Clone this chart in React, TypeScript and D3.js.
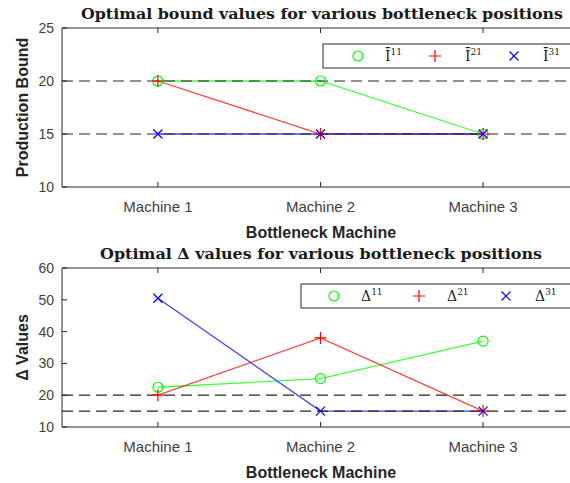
import React, { useEffect, useRef } from 'react';
import * as d3 from 'd3';

// categories and values
const machines = ['Machine 1', 'Machine 2', 'Machine 3'];

const boundSeries = [
  { key: '11', color: '#00ff00', marker: 'circle', values: [20, 20, 15] },
  { key: '21', color: '#ff0000', marker: 'plus', values: [20, 15, 15] },
  { key: '31', color: '#0000ff', marker: 'cross', values: [15, 15, 15] },
];

const deltaSeries = [
  { key: '11', color: '#00ff00', marker: 'circle', values: [22.5, 25.2, 37] },
  { key: '21', color: '#ff0000', marker: 'plus', values: [20, 38, 15] },
  { key: '31', color: '#0000ff', marker: 'cross', values: [50.5, 15, 15] },
];

const boundTicks = [10, 15, 20, 25];
const deltaTicks = [10, 20, 30, 40, 50, 60];
const refLines = [20, 15];

const App = () => {
  const ref = useRef<SVGSVGElement | null>(null);

  useEffect(() => {
    const svg = d3.select(ref.current);
    svg.selectAll('*').remove();

    const x = d3.scaleLinear().domain([0.41, 3.59]).range([62, 579]);
    const axisColor = '#262626';

    const drawMarker = (g: any, kind: string, cx: number, cy: number, color: string) => {
      if (kind === 'circle') {
        g.append('circle').attr('cx', cx).attr('cy', cy).attr('r', 5)
          .attr('fill', 'none').attr('stroke', color).attr('stroke-width', 1.2);
      } else if (kind === 'plus') {
        const s = 6;
        g.append('path').attr('d', `M${cx - s},${cy}H${cx + s}M${cx},${cy - s}V${cy + s}`)
          .attr('stroke', color).attr('stroke-width', 1.2).attr('fill', 'none');
      } else {
        const s = 4.5;
        g.append('path').attr('d', `M${cx - s},${cy - s}L${cx + s},${cy + s}M${cx - s},${cy + s}L${cx + s},${cy - s}`)
          .attr('stroke', color).attr('stroke-width', 1.2).attr('fill', 'none');
      }
    };

    const drawPanel = (opts: any) => {
      const { top, bottom, domain, ticks, series, title, titleLen, ylabel, base, legend } = opts;
      const y = d3.scaleLinear().domain(domain).range([bottom, top]);
      const g = svg.append('g');

      // title
      g.append('text')
        .attr('x', opts.titleX).attr('y', top - 9)
        .attr('text-anchor', 'middle')
        .attr('textLength', titleLen).attr('lengthAdjust', 'spacingAndGlyphs')
        .style('font-family', '"DejaVu Serif", serif')
        .style('font-weight', 'bold').style('font-size', '14px')
        .attr('fill', '#1a1a1a')
        .text(title);

      // axes box (right side falls outside the picture)
      g.append('path')
        .attr('d', `M600,${top}H${x.range()[0]}V${bottom}H600`)
        .attr('fill', 'none').attr('stroke', axisColor).attr('stroke-width', 1);

      // y ticks
      ticks.forEach((t: number) => {
        g.append('line').attr('x1', 62).attr('x2', 67).attr('y1', y(t)).attr('y2', y(t))
          .attr('stroke', axisColor);
        g.append('text').attr('x', 54).attr('y', y(t)).attr('dy', '0.35em')
          .attr('text-anchor', 'end')
          .style('font-family', '"Liberation Sans", Arial, sans-serif').style('font-size', '14px')
          .attr('fill', '#404040').text(t);
      });

      // x ticks, bottom and top
      machines.forEach((m, i) => {
        g.append('line').attr('x1', x(i + 1)).attr('x2', x(i + 1)).attr('y1', bottom).attr('y2', bottom - 5)
          .attr('stroke', axisColor);
        g.append('line').attr('x1', x(i + 1)).attr('x2', x(i + 1)).attr('y1', top).attr('y2', top + 5)
          .attr('stroke', axisColor);
        g.append('text').attr('x', x(i + 1)).attr('y', bottom + 25)
          .attr('text-anchor', 'middle')
          .style('font-family', '"Liberation Sans", Arial, sans-serif').style('font-size', '15px')
          .attr('fill', '#404040').text(m);
      });

      // axis labels
      g.append('text').attr('x', 321).attr('y', bottom + 51)
        .attr('text-anchor', 'middle')
        .style('font-family', '"Liberation Sans", Arial, sans-serif')
        .style('font-weight', 'bold').style('font-size', '16px')
        .attr('fill', '#262626').text('Bottleneck Machine');

      g.append('text')
        .attr('transform', `translate(28,${(top + bottom) / 2}) rotate(-90)`)
        .attr('text-anchor', 'middle')
        .style('font-family', '"Liberation Sans", Arial, sans-serif')
        .style('font-weight', 'bold').style('font-size', '16px')
        .attr('fill', '#262626').text(ylabel);

      // series lines and markers
      const line = d3.line<number>().x((_, i) => x(i + 1)).y(d => y(d));
      series.forEach((s: any) => {
        g.append('path').attr('d', line(s.values))
          .attr('fill', 'none').attr('stroke', s.color).attr('stroke-width', 1.3).attr('opacity', 0.75);
      });

      // dashed reference lines
      refLines.forEach(v => {
        g.append('line').attr('x1', 62).attr('x2', 600).attr('y1', y(v)).attr('y2', y(v))
          .attr('stroke', '#262626').attr('stroke-width', 1.2).attr('stroke-dasharray', '11,6');
      });

      series.forEach((s: any) => {
        s.values.forEach((v: number, i: number) => drawMarker(g, s.marker, x(i + 1), y(v), s.color));
      });

      // legend
      const lg = g.append('g');
      lg.append('rect').attr('x', legend.x).attr('y', legend.y).attr('width', 300).attr('height', 24)
        .attr('fill', '#fff').attr('stroke', axisColor).attr('stroke-width', 1);
      series.forEach((s: any, i: number) => {
        const mx = legend.markerX[i];
        const cy = legend.y + 12;
        drawMarker(lg, s.marker, mx, cy, s.color);
        const t = lg.append('text').attr('x', legend.textX[i]).attr('y', cy + 5)
          .style('font-family', '"DejaVu Serif", serif').style('font-size', '14px')
          .attr('fill', '#1a1a1a');
        t.append('tspan').text(base);
        t.append('tspan').attr('dy', -6).style('font-size', '9px').text(s.key);
      });
    };

    drawPanel({
      top: 28, bottom: 187, domain: [10, 25], ticks: boundTicks, series: boundSeries,
      title: 'Optimal bound values for various bottleneck positions', titleX: 322, titleLen: 482,
      ylabel: 'Production Bound', base: '\u012A',
      legend: { x: 323, y: 44, markerX: [358, 435, 514], textX: [385, 465, 543] },
    });

    drawPanel({
      top: 268, bottom: 427, domain: [10, 60], ticks: deltaTicks, series: deltaSeries,
      title: 'Optimal \u0394 values for various bottleneck positions', titleX: 321, titleLen: 442,
      ylabel: '\u0394 Values', base: '\u0394',
      legend: { x: 301, y: 284, markerX: [334, 419, 506], textX: [361, 447, 535] },
    });
  }, []);

  return (
    <svg
      ref={ref}
      width={570}
      height={483}
      style={{ position: 'absolute', left: 0, top: 0, background: '#fff' }}
    />
  );
};

export default App;
